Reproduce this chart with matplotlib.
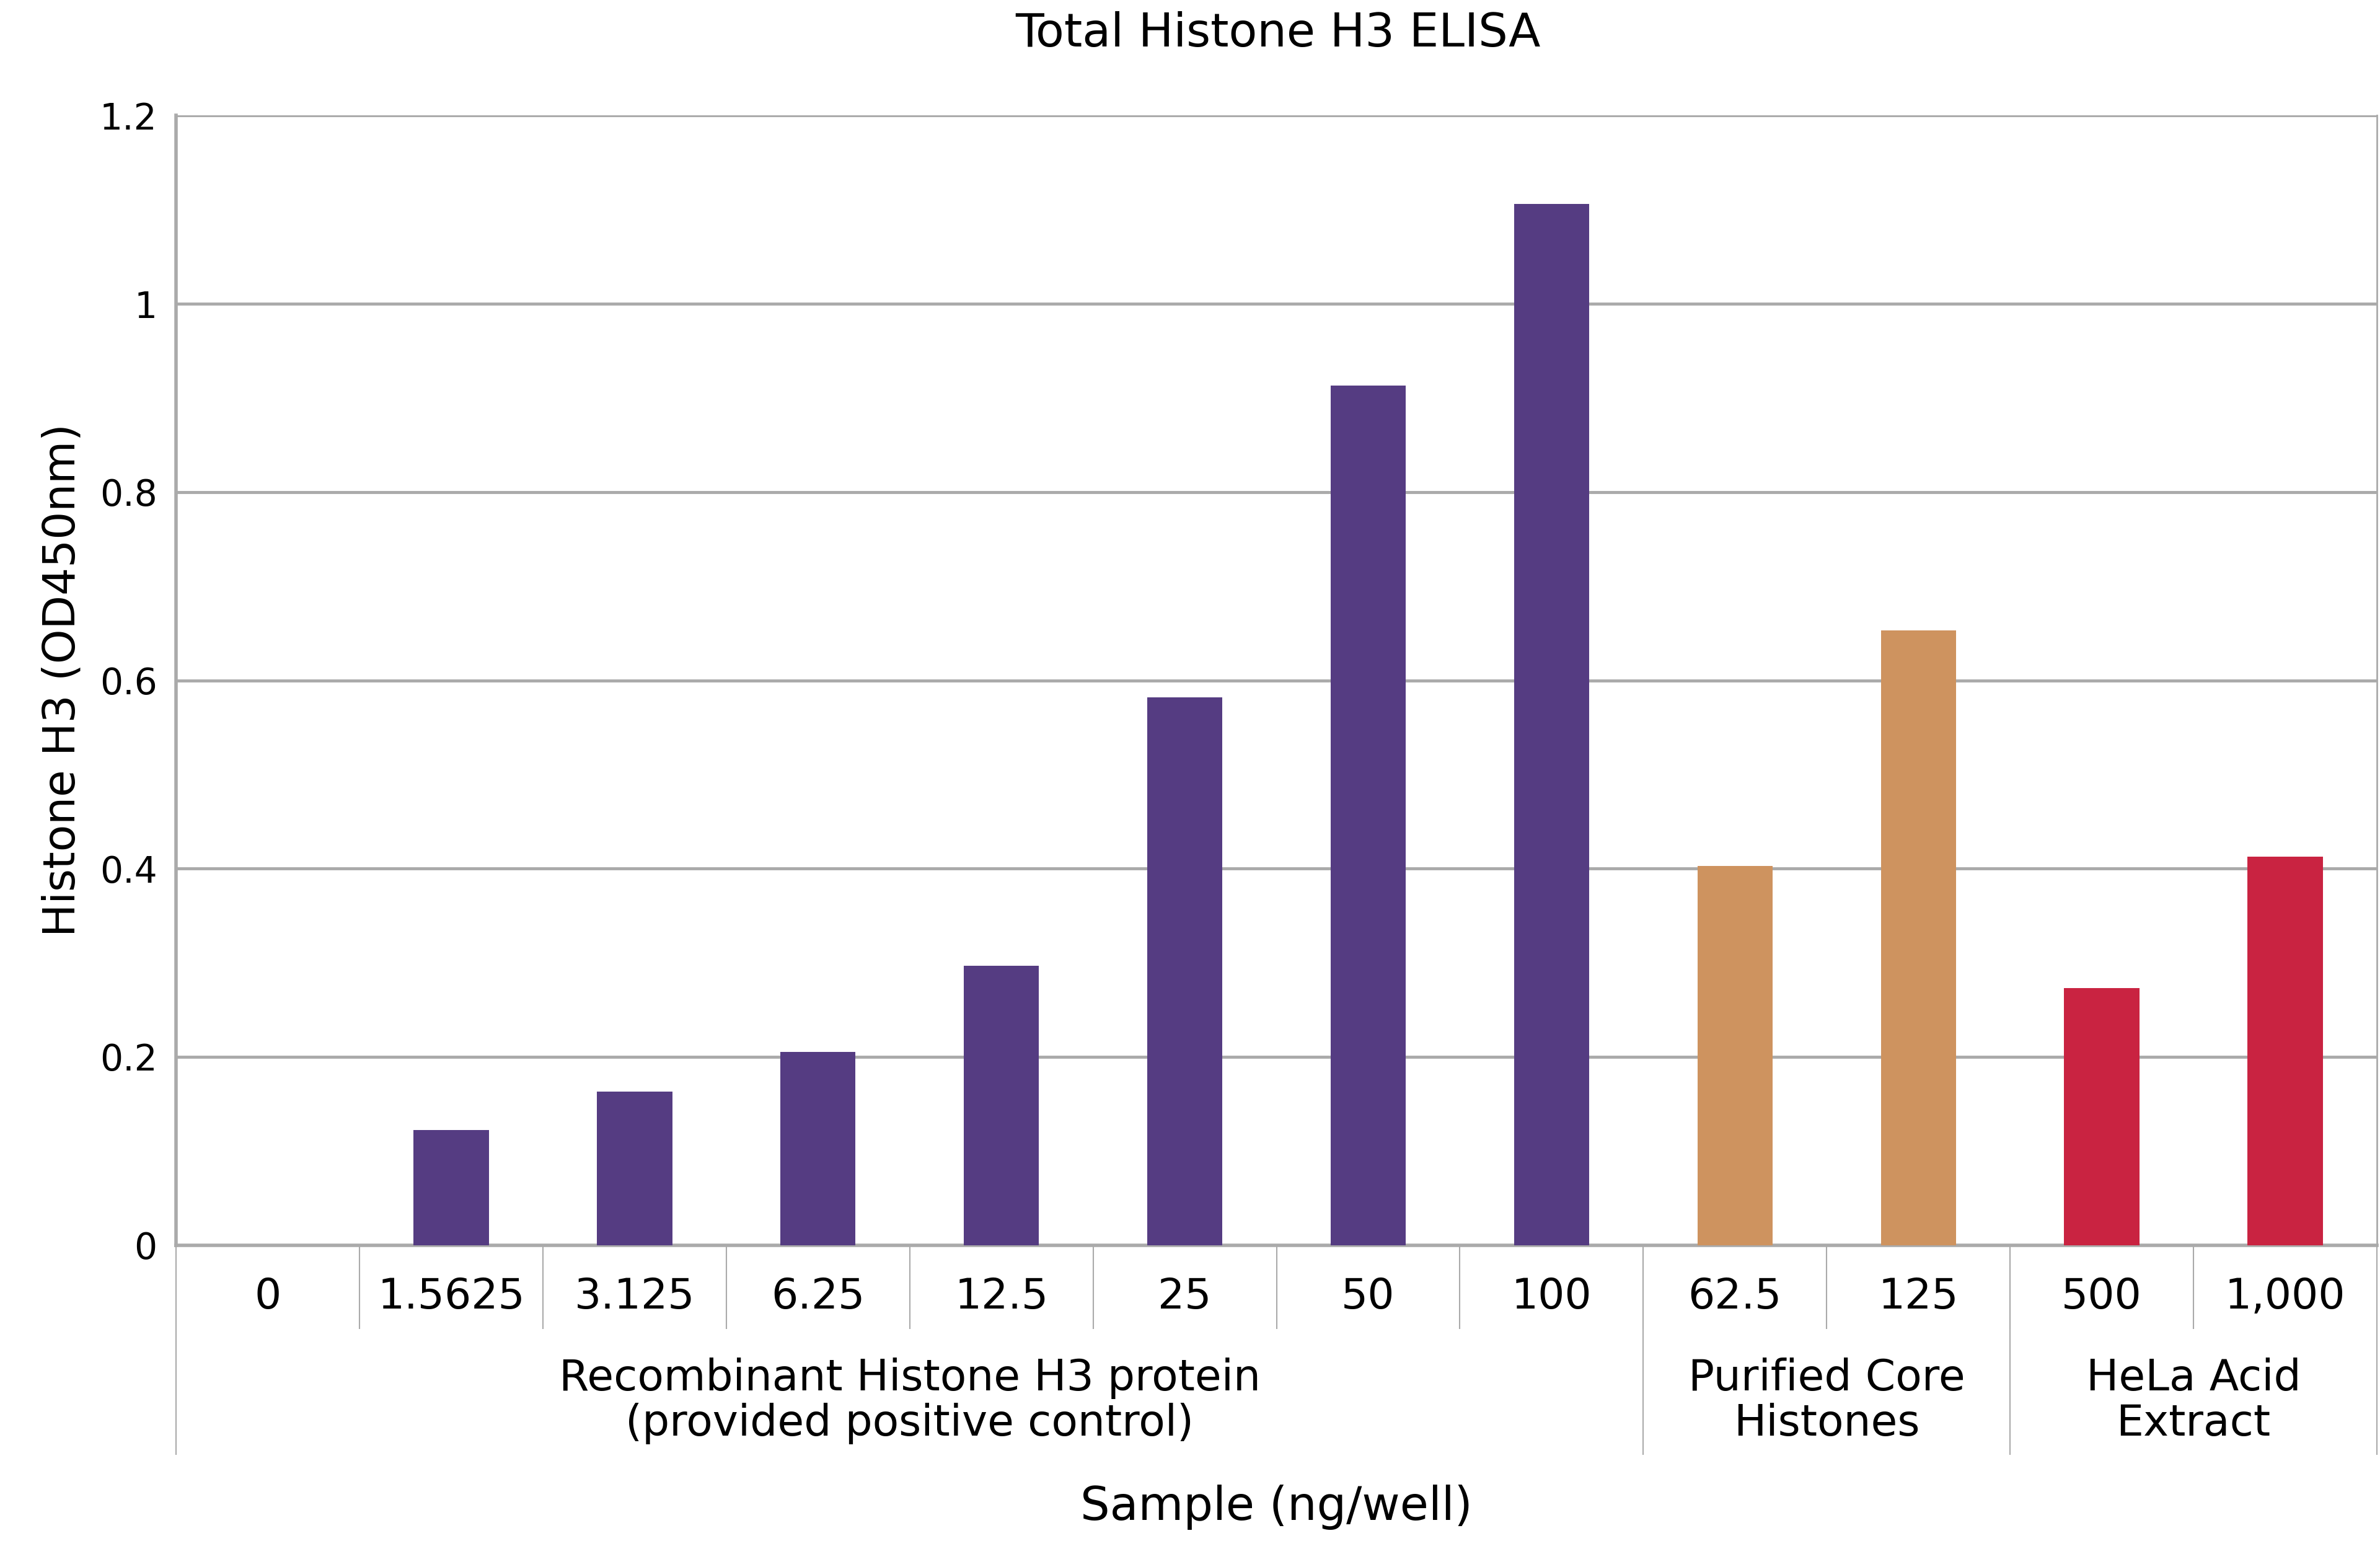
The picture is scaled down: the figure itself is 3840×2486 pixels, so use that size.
import matplotlib.pyplot as plt
import matplotlib.transforms as mtransforms
import numpy as np

# data
doses = ['0', '1.5625', '3.125', '6.25', '12.5', '25', '50', '100',
         '62.5', '125', '500', '1,000']
od450 = [0.0, 0.122, 0.163, 0.205, 0.297, 0.582, 0.913, 1.106,
         0.403, 0.653, 0.273, 0.413]
group_of_bar = [0, 0, 0, 0, 0, 0, 0, 0, 1, 1, 2, 2]
group_names = ['Recombinant Histone H3 protein\n(provided positive control)',
               'Purified Core\nHistones',
               'HeLa Acid\nExtract']
group_colors = ['#553c82', '#ce935f', '#c92341']
yticks = [0, 0.2, 0.4, 0.6, 0.8, 1.0, 1.2]
ytick_labels = ['0', '0.2', '0.4', '0.6', '0.8', '1', '1.2']

grid_color = '#aaaaaa'

fig = plt.figure(figsize=(38.4, 24.86), dpi=100)
ax = fig.add_axes([0.074, 0.192, 0.9247, 0.733])

x = np.arange(len(doses))
colors = [group_colors[g] for g in group_of_bar]
ax.bar(x, od450, width=0.41, color=colors, zorder=3)

ax.set_xlim(-0.5, len(doses) - 0.5)
ax.set_ylim(0, 1.2)
ax.set_yticks(yticks)
ax.set_yticklabels(ytick_labels, fontsize=42)
ax.yaxis.grid(True, color=grid_color, lw=3.5, zorder=0)
ax.tick_params(axis='y', length=0, pad=22)

ax.set_xticks(x)
ax.set_xticklabels(doses, fontsize=49)
ax.tick_params(axis='x', which='major', length=0, pad=36)
ax.set_xticks(x[1:] - 0.5, minor=True)
ax.tick_params(axis='x', which='minor', length=97, width=1.5, color=grid_color)

for side in ['left', 'right']:
    ax.spines[side].set_color(grid_color)
    ax.spines[side].set_linewidth(2)
ax.spines['left'].set_linewidth(4)
ax.spines['bottom'].set_color(grid_color)
ax.spines['bottom'].set_linewidth(4)
ax.spines['top'].set_visible(False)

# long separators between groups
trans = mtransforms.blended_transform_factory(ax.transData, ax.transAxes)
bounds = [-0.5]
for i in range(1, len(group_of_bar)):
    if group_of_bar[i] != group_of_bar[i - 1]:
        bounds.append(i - 0.5)
bounds.append(len(doses) - 0.5)
for b in bounds:
    ax.plot([b, b], [0, -0.185], transform=trans, color=grid_color,
            lw=1.5, clip_on=False)

# group labels
for g, name in enumerate(group_names):
    idx = [i for i, gg in enumerate(group_of_bar) if gg == g]
    ax.text(np.mean(idx), -0.138, name, transform=trans, ha='center',
            va='center', fontsize=50, linespacing=1.12)

ax.text(0.5, -0.232, 'Sample (ng/well)', transform=ax.transAxes,
        ha='center', va='center', fontsize=54)
ax.set_ylabel('Histone H3 (OD450nm)', fontsize=51, labelpad=18)
fig.text(0.537, 0.978, 'Total Histone H3 ELISA', ha='center', va='center',
         fontsize=54)

fig.savefig('out.png', dpi=100, facecolor='white')
